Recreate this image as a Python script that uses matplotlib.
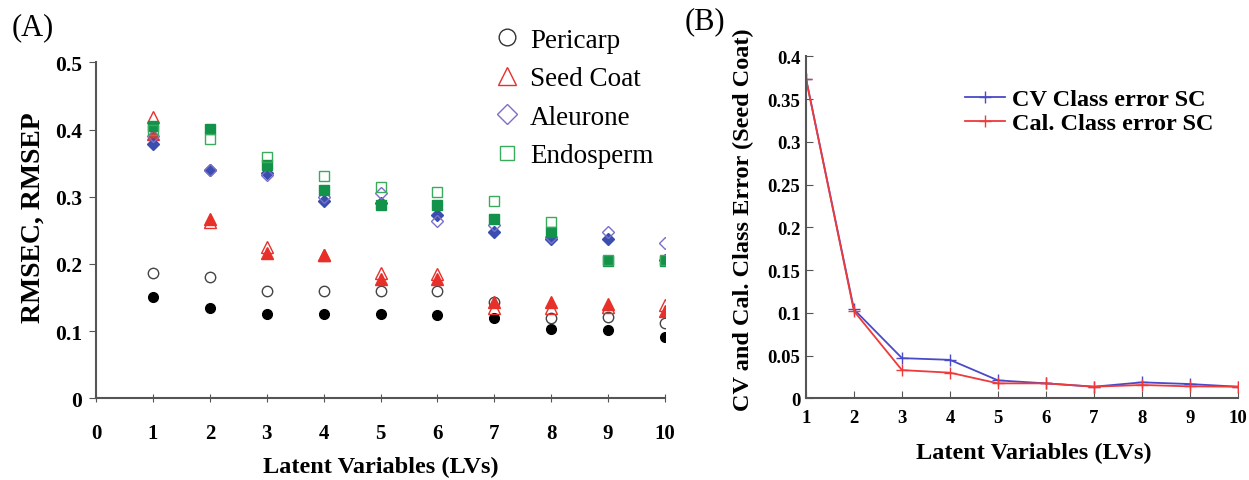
import numpy as np
import matplotlib
matplotlib.use("Agg")
import matplotlib.pyplot as plt
from matplotlib.lines import Line2D

plt.rcParams["font.family"] = ["Liberation Serif", "DejaVu Serif"]

lvs = np.arange(1, 11)

# panel A: open = RMSEP, filled = RMSEC
peri_open = [0.187, 0.181, 0.160, 0.159, 0.159, 0.159, 0.144, 0.119, 0.121, 0.112]
peri_fill = [0.151, 0.134, 0.125, 0.125, 0.125, 0.124, 0.120, 0.103, 0.102, 0.092]
seed_open = [0.419, 0.262, 0.225, 0.214, 0.187, 0.185, 0.135, 0.135, 0.136, 0.139]
seed_fill = [0.393, 0.267, 0.217, 0.214, 0.178, 0.178, 0.143, 0.143, 0.140, 0.130]
aleu_open = [0.390, 0.340, 0.332, 0.300, 0.306, 0.264, 0.258, 0.240, 0.248, 0.231]
aleu_fill = [0.378, 0.340, 0.336, 0.293, 0.290, 0.273, 0.247, 0.237, 0.237, 0.206]
endo_open = [0.400, 0.386, 0.359, 0.331, 0.315, 0.307, 0.294, 0.263, 0.206, 0.206]
endo_fill = [0.406, 0.401, 0.347, 0.310, 0.288, 0.287, 0.267, 0.247, 0.204, 0.204]

# panel B: class error for seed coat
cv_err  = [0.374, 0.104, 0.047, 0.045, 0.021, 0.0175, 0.0136, 0.0187, 0.0167, 0.0136]
cal_err = [0.374, 0.102, 0.033, 0.030, 0.0175, 0.0175, 0.0136, 0.0156, 0.0140, 0.0136]

red = "#e8302a"
blue = "#3a4eb0"
purple = "#7a70c8"
green = "#13924a"
lgreen = "#3aaa5c"
axcol = "#555555"

fig = plt.figure(figsize=(12.49, 4.81), dpi=100)

# ---- panel A
ax = fig.add_axes([0.0769, 0.1698, 0.4555, 0.6985])
ax.plot(lvs, peri_fill, "o", color="black", ms=7)
ax.plot(lvs, peri_open, "o", mfc="none", mec="#444444", ms=7.5, mew=1)
ax.plot(lvs, seed_fill, "^", color=red, ms=8.5)
ax.plot(lvs, seed_open, "^", mfc="none", mec=red, ms=9, mew=1)
ax.plot(lvs, aleu_fill, "D", color=blue, ms=6)
ax.plot(lvs, aleu_open, "D", mfc="none", mec=purple, ms=6.5, mew=1)
ax.plot(lvs, endo_fill, "s", color=green, ms=7)
ax.plot(lvs, endo_open, "s", mfc="none", mec=lgreen, ms=7.5, mew=1)

ax.set_xlim(0, 10)
ax.set_ylim(0, 0.5)
ax.set_xticks(range(0, 11))
ax.set_yticks([0, 0.1, 0.2, 0.3, 0.4, 0.5])
ax.set_yticklabels(["0", "0.1", "0.2", "0.3", "0.4", "0.5"])
for s in ["top", "right"]:
    ax.spines[s].set_visible(False)
for s in ["left", "bottom"]:
    ax.spines[s].set_color(axcol)
    ax.spines[s].set_linewidth(1.5)
ax.tick_params(axis="x", length=6, direction="inout", color=axcol, pad=15, labelsize=15)
ax.tick_params(axis="y", length=5, direction="out", color=axcol, pad=5, labelsize=15.5)
for lab in ax.get_xticklabels() + ax.get_yticklabels():
    lab.set_fontweight("bold")
ax.set_xlabel("Latent Variables (LVs)", fontsize=17.5, fontweight="bold", labelpad=9)
ax.set_ylabel("RMSEC, RMSEP", fontsize=20, fontweight="bold", labelpad=7)
ax.yaxis.label.set_y(0.54)

handles = [
    Line2D([], [], ls="none", marker="o", mfc="none", mec="#333333", ms=12),
    Line2D([], [], ls="none", marker="^", mfc="none", mec=red, ms=13),
    Line2D([], [], ls="none", marker="D", mfc="none", mec=purple, ms=10),
    Line2D([], [], ls="none", marker="s", mfc="none", mec=lgreen, ms=10.5),
]
fig.legend(handles, ["Pericarp", "Seed Coat", "Aleurone", "Endosperm"],
           loc="upper left", bbox_to_anchor=(493.5 / 1249, 0.94), frameon=False,
           fontsize=19.5, handlelength=1.0, handletextpad=0.35,
           labelspacing=0.5, borderaxespad=0, borderpad=0)

fig.text(12 / 1249, 1 - 28 / 481, "(A)", fontsize=22, va="center")

# ---- panel B
bx = fig.add_axes([0.6453, 0.1698, 0.3459, 0.711])
bx.plot(lvs, cv_err, "-", color="#4a4ac8", marker="+", ms=8, lw=1.3,
        label="CV Class error SC")
bx.plot(lvs, cal_err, "-", color="#ee3a3a", marker="+", ms=8, lw=1.3,
        label="Cal. Class error SC")
bx.set_xlim(1, 10)
bx.set_ylim(0, 0.4)
bx.set_xticks(range(1, 11))
bx.set_yticks([0, 0.05, 0.1, 0.15, 0.2, 0.25, 0.3, 0.35, 0.4])
bx.set_yticklabels(["0", "0.05", "0.1", "0.15", "0.2", "0.25", "0.3", "0.35", "0.4"])
for s in ["top", "right"]:
    bx.spines[s].set_visible(False)
for s in ["left", "bottom"]:
    bx.spines[s].set_color(axcol)
    bx.spines[s].set_linewidth(1.5)
bx.tick_params(length=5, direction="in", color=axcol, labelsize=13.5)
bx.tick_params(axis="x", pad=8)
bx.tick_params(axis="y", pad=4)
for lab in bx.get_xticklabels() + bx.get_yticklabels():
    lab.set_fontweight("bold")
bx.set_xlabel("Latent Variables (LVs)", fontsize=17.5, fontweight="bold", labelpad=11)
bx.xaxis.label.set_x(0.528)
bx.set_ylabel("CV and Cal. Class Error (Seed Coat)", fontsize=17.5,
              fontweight="bold", labelpad=10)
bx.yaxis.label.set_y(0.525)
fig.legend(*bx.get_legend_handles_labels(), loc="upper left",
           bbox_to_anchor=(965 / 1249, 1 - 89 / 481), frameon=False,
           prop={"size": 17.5, "weight": "bold"}, handlelength=1.65,
           labelspacing=0.1, handletextpad=0.3, borderaxespad=0, borderpad=0)

fig.text(685 / 1249, 1 - 22 / 481, "(B)", fontsize=22, va="center")

fig.savefig("out.png", dpi=100)
